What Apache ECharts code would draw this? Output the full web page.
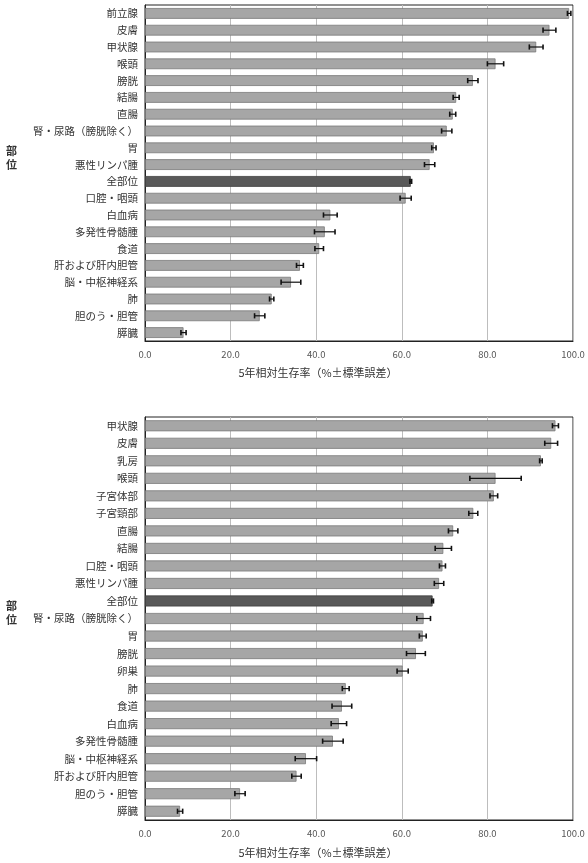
<!DOCTYPE html>
<html>
<head>
<meta charset="utf-8">
<script src="https://cdn.jsdelivr.net/npm/echarts@6/dist/echarts.min.js"></script>
<style>
  html, body { margin: 0; padding: 0; background: #fff; }
  #main { width: 588px; height: 863px; }
</style>
</head>
<body>
<div id="main"></div>
<script>
// 男性
const maleSites = ["前立腺", "皮膚", "甲状腺", "喉頭", "膀胱", "結腸", "直腸", "腎・尿路（膀胱除く）", "胃", "悪性リンパ腫",
  "全部位", "口腔・咽頭", "白血病", "多発性骨髄腫", "食道", "肝および肝内胆管", "脳・中枢神経系", "肺", "胆のう・胆管", "膵臓"];
const maleRate = [99.1, 94.5, 91.4, 81.9, 76.6, 72.7, 71.9, 70.5, 67.5, 66.5,
  62.1, 60.9, 43.3, 42.0, 40.7, 36.2, 34.1, 29.6, 26.8, 9.0];
const maleSe = [0.4, 1.5, 1.6, 1.9, 1.2, 0.7, 0.7, 1.2, 0.5, 1.2,
  0.2, 1.3, 1.6, 2.4, 1.0, 0.8, 2.3, 0.5, 1.2, 0.6];

// 女性
const femaleSites = ["甲状腺", "皮膚", "乳房", "喉頭", "子宮体部", "子宮頸部", "直腸", "結腸", "口腔・咽頭", "悪性リンパ腫",
  "全部位", "腎・尿路（膀胱除く）", "胃", "膀胱", "卵巣", "肺", "食道", "白血病", "多発性骨髄腫", "脳・中枢神経系",
  "肝および肝内胆管", "胆のう・胆管", "膵臓"];
const femaleRate = [95.9, 94.9, 92.5, 81.9, 81.5, 76.7, 72.0, 69.7, 69.5, 68.7,
  67.2, 65.1, 64.9, 63.3, 60.2, 46.9, 46.0, 45.3, 43.9, 37.6,
  35.4, 22.2, 8.2];
const femaleSe = [0.7, 1.5, 0.3, 6.0, 0.9, 1.05, 1.1, 1.9, 0.7, 1.1,
  0.2, 1.6, 0.8, 2.2, 1.3, 0.8, 2.3, 1.8, 2.4, 2.5,
  1.1, 1.2, 0.6];

const xTicks = [0, 20, 40, 60, 80, 100];
const axisTitle = "5年相対生存率（%±標準誤差）";

const myChart = echarts.init(document.getElementById("main"));

function barData(sites, rate) {
  return rate.map((v, i) => ({
    value: v,
    itemStyle: sites[i] === "全部位" ? { color: "#595959", borderColor: "#404040" } : {}
  }));
}

function errData(rate, se) {
  return rate.map((v, i) => [v - se[i], v + se[i], i]);
}

function renderErr(params, api) {
  const lo = api.coord([api.value(0), api.value(2)]);
  const hi = api.coord([api.value(1), api.value(2)]);
  const cap = 2.6;
  const style = { stroke: "#111", lineWidth: 1.2 };
  return {
    type: "group",
    children: [
      { type: "line", shape: { x1: lo[0], y1: lo[1], x2: hi[0], y2: hi[1] }, style: style },
      { type: "line", shape: { x1: lo[0], y1: lo[1] - cap, x2: lo[0], y2: lo[1] + cap }, style: { stroke: "#111", lineWidth: 1.6 } },
      { type: "line", shape: { x1: hi[0], y1: hi[1] - cap, x2: hi[0], y2: hi[1] + cap }, style: { stroke: "#111", lineWidth: 1.6 } }
    ]
  };
}

function xAxisOpt(gridIndex) {
  return {
    gridIndex: gridIndex,
    type: "value",
    min: 0,
    max: 100,
    interval: 20,
    axisLine: { show: true, lineStyle: { color: "#222" } },
    axisTick: { show: false },
    axisLabel: { color: "#555", fontSize: 9.5, margin: 9, formatter: (v) => v.toFixed(1) },
    splitLine: { show: true, lineStyle: { color: "#bdbdbd", width: 1 } }
  };
}

function yAxisOpt(gridIndex, sites) {
  return {
    gridIndex: gridIndex,
    type: "category",
    inverse: true,
    data: sites,
    axisLine: { show: true, lineStyle: { color: "#222" } },
    axisTick: { show: false },
    axisLabel: { color: "#333", fontSize: 10.5, margin: 7, fontFamily: "Noto Sans CJK JP" }
  };
}

const barStyle = { color: "#a6a6a6", borderColor: "#7a7a7a", borderWidth: 0.8 };

let option = {
  animation: false,
  textStyle: { fontFamily: "Noto Sans CJK JP" },
  grid: [
    { left: 145, top: 5, width: 428, height: 336, show: true, borderColor: "#222", borderWidth: 1 },
    { left: 145, top: 417, width: 428, height: 403, show: true, borderColor: "#222", borderWidth: 1 }
  ],
  xAxis: [xAxisOpt(0), xAxisOpt(1)],
  yAxis: [yAxisOpt(0, maleSites), yAxisOpt(1, femaleSites)],
  graphic: [
    { type: "text", left: 6, top: 144, style: { text: "部\n位", font: "bold 11px 'Noto Sans CJK JP'", fill: "#333", lineHeight: 14 } },
    { type: "text", left: 6, top: 599, style: { text: "部\n位", font: "bold 11px 'Noto Sans CJK JP'", fill: "#333", lineHeight: 14 } },
    { type: "text", x: 318, y: 373, style: { text: axisTitle, font: "11px 'Noto Sans CJK JP'", fill: "#333", align: "center", verticalAlign: "middle" } },
    { type: "text", x: 318, y: 853, style: { text: axisTitle, font: "11px 'Noto Sans CJK JP'", fill: "#333", align: "center", verticalAlign: "middle" } }
  ],
  series: [
    {
      type: "bar", xAxisIndex: 0, yAxisIndex: 0,
      barCategoryGap: "36%",
      itemStyle: barStyle,
      data: barData(maleSites, maleRate)
    },
    {
      type: "custom", xAxisIndex: 0, yAxisIndex: 0,
      renderItem: renderErr,
      encode: { x: [0, 1], y: 2 },
      data: errData(maleRate, maleSe),
      z: 5
    },
    {
      type: "bar", xAxisIndex: 1, yAxisIndex: 1,
      barCategoryGap: "37%",
      itemStyle: barStyle,
      data: barData(femaleSites, femaleRate)
    },
    {
      type: "custom", xAxisIndex: 1, yAxisIndex: 1,
      renderItem: renderErr,
      encode: { x: [0, 1], y: 2 },
      data: errData(femaleRate, femaleSe),
      z: 5
    }
  ]
};
myChart.setOption(option);
</script>
</body>
</html>
